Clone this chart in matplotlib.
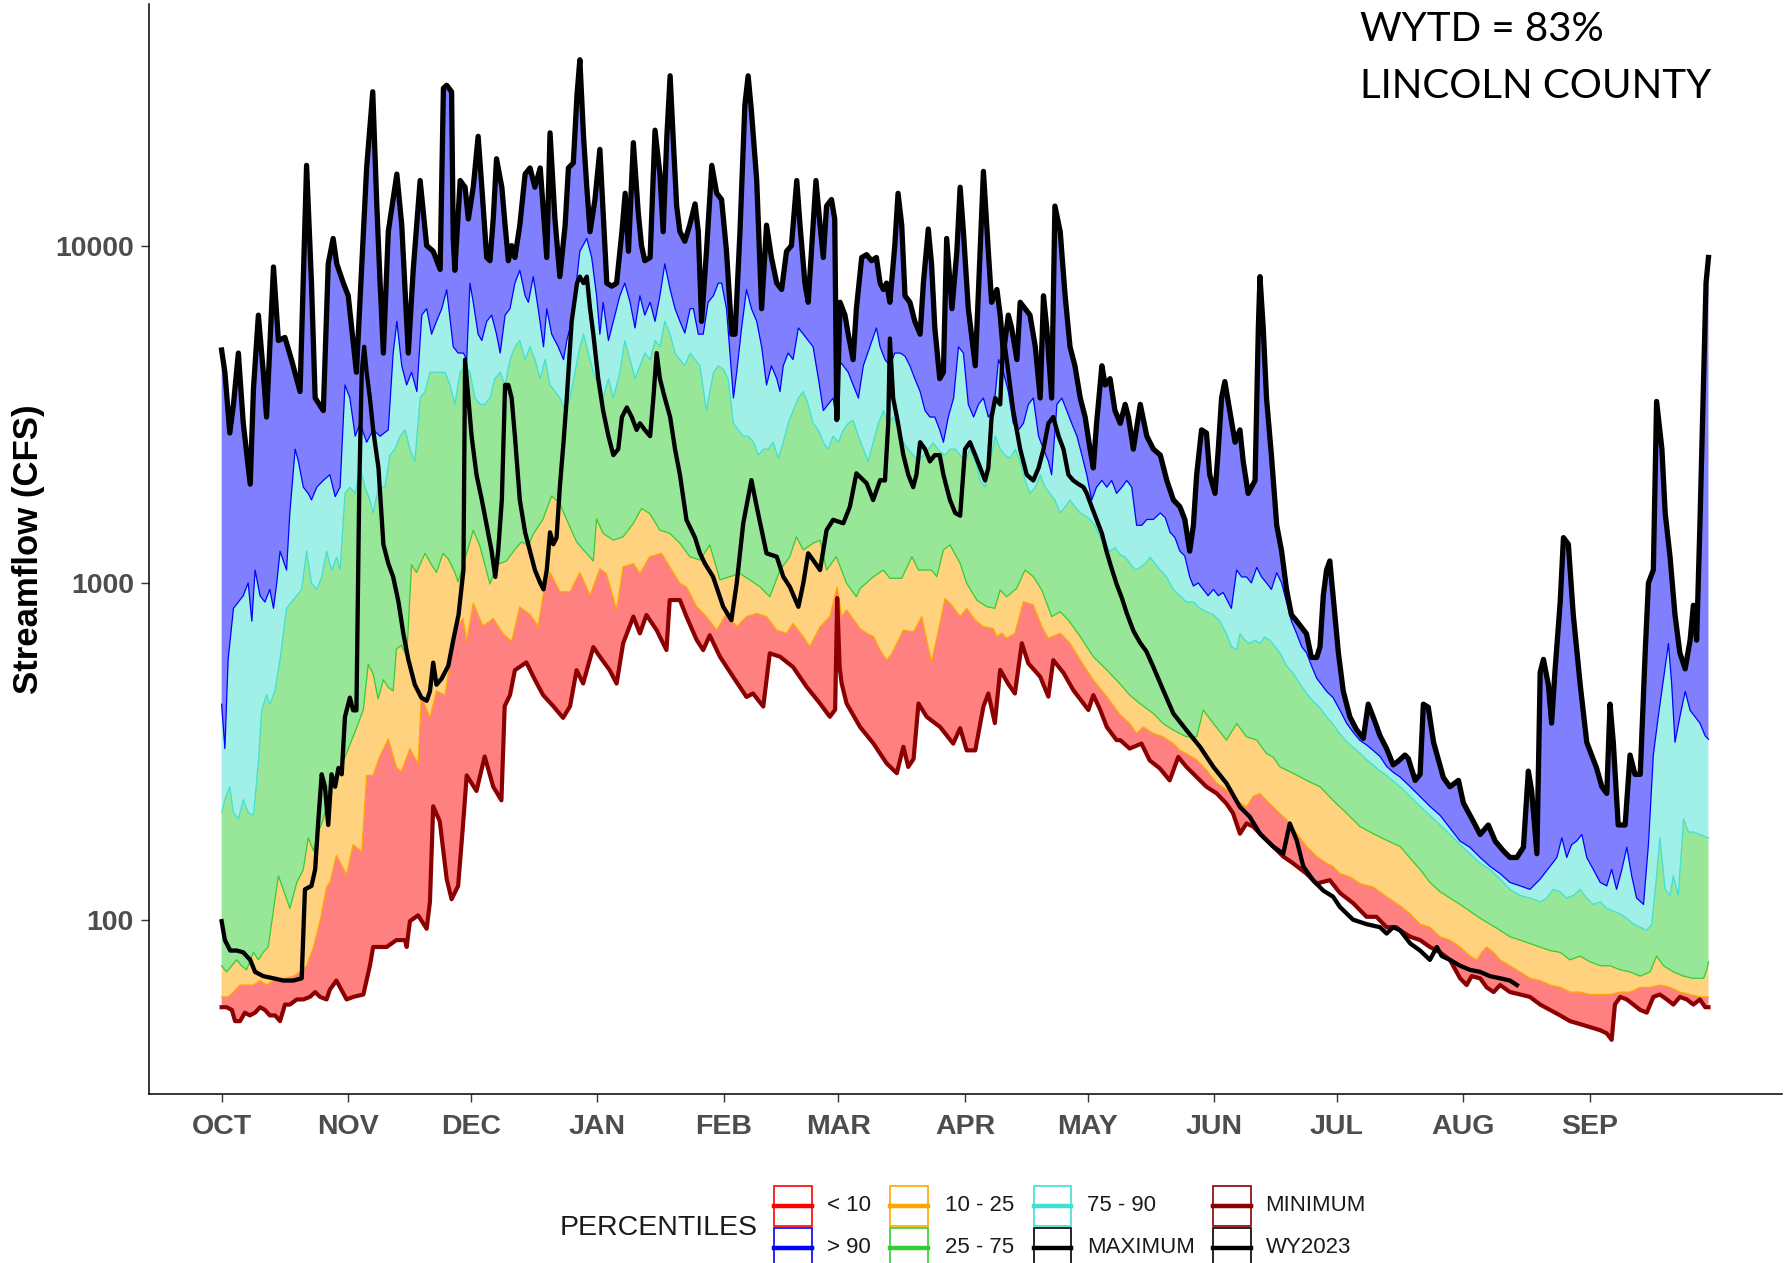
import numpy as np
import matplotlib
matplotlib.use("Agg")
import matplotlib.pyplot as plt
from matplotlib.patches import Rectangle
from matplotlib.lines import Line2D
from matplotlib.ticker import NullLocator

# ---------------- data: (day of water year, streamflow CFS) ----------------
MAXIMUM = [(0,4900),(0.8,4210),(2,2780),(2.9,3380),(4.1,4800),(5.3,2970),(7,1960),(7.8,3770),(9,6220),(10.2,4210),(11,3100),(12.7,8640),(13.9,5230),(15.5,5340),(17.1,4590),(19.2,3690),(20.8,17300),(22,7740),(22.9,3530),(24.9,3240),(26.1,8830),(27.3,10500),(28.2,8830),(29.8,7740),(31,7100),(33,4210),(35.5,17000),(37,28600),(38,13100),(38.8,7740),(39.6,4800),(40.8,11000),(42.9,16300),(44.1,11500),(45.7,4800),(46.9,8450),(48.6,15600),(50.2,10000),(51.8,9620),(53.5,8500),(54.3,29300),(55.1,29900),(56.3,28600),(56.7,10500),(57.1,8450),(58.4,15600),(59.6,14900),(60.4,12000),(61.6,14900),(62.8,21100),(63.7,14900),(64.9,9220),(65.7,9020),(66.5,12000),(67.3,18100),(68.6,14900),(69.4,11500),(70.2,9020),(71,10000),(71.8,9220),(73,11500),(74.3,16300),(75.5,17000),(76.7,14900),(78,17000),(78.8,12500),(79.6,9220),(80.4,21600),(81.6,12000),(82.8,8090),(84.1,11500),(84.9,17000),(86.1,17600),(87,28000),(87.7,35600),(88.6,21100),(89.4,14900),(90.2,11000),(91.4,13700),(92.6,19300),(93.4,12500),(94.3,7740),(95.5,7580),(96.7,7740),(98,11000),(98.8,14300),(99.6,9620),(100.8,20200),(102,12500),(102.8,10000),(103.6,9020),(104.9,9220),(106.1,22000),(107.3,16300),(108.1,11000),(109,21100),(109.8,31900),(110.6,20200),(111.4,13100),(112.2,11000),(113.4,10300),(114.6,11500),(115.9,13300),(116.7,11000),(117.5,5960),(118.7,9620),(120,17300),(121.2,14300),(122.4,13700),(123.6,9620),(124.9,5460),(125.7,5460),(126.9,11000),(128.1,26200),(128.9,31900),(129.7,25100),(131,15600),(132.2,6500),(133.4,11500),(134.6,9220),(135.9,7740),(137.1,7410),(138.3,9620),(139.5,10000),(140.8,15600),(141.6,11500),(142.8,7740),(143.6,6790),(144.4,9620),(145.5,15600),(146.5,11500),(147.3,9220),(148.1,13100),(149.3,13700),(150.1,12000),(150.6,3050),(151.4,6790),(152.6,6220),(153.4,5460),(154.6,4590),(155.4,6500),(156.7,9220),(157.9,9400),(159.1,9020),(160.3,9220),(161.2,7740),(162,7410),(162.8,7740),(163.6,6790),(164.8,10000),(165.6,14300),(166.5,11500),(167.3,7100),(168.5,6790),(169.7,5960),(171,5460),(171.8,7740),(173,11200),(173.8,8830),(174.6,5700),(175.8,4030),(176.7,4210),(177.5,10500),(178.8,6500),(180,9620),(180.8,14900),(181.6,11000),(182.8,6500),(184.5,4400),(185.3,7410),(186.5,16600),(187.7,9620),(188.5,6790),(189.8,7410),(190.6,6220),(191.4,4800),(192.6,6220),(193.4,5700),(194.7,4590),(195.5,6790),(196.7,6500),(197.9,6220),(199.2,5010),(200.4,3530),(201.2,7100),(202,5700),(203.2,3530),(204,13100),(205.3,11000),(206.5,7100),(207.7,5010),(208.9,4400),(210.2,3530),(211.4,3100),(212.6,2490),(213.4,2190),(214.2,2970),(215.5,4400),(216.3,3860),(217.5,4030),(218.7,3240),(220,2970),(221.2,3380),(222,3100),(223.2,2490),(224.9,3380),(226.5,2720),(228.1,2490),(229.8,2390),(231.4,2010),(233,1760),(234.6,1680),(235.8,1540),(237,1240),(237.9,1480),(238.7,2090),(239.9,2840),(241.1,2780),(241.9,2090),(243.2,1840),(244,2490),(244.8,3530),(245.6,3950),(246.8,3240),(248.1,2610),(249.3,2840),(250.1,2290),(251.3,1840),(253,2010),(253.8,5700),(254.2,8090),(255,5700),(255.8,3530),(257,2390),(258.3,1480),(259.5,1240),(260.7,955),(261.9,803),(263.2,769),(264.4,736),(265.6,705),(266.8,600),(268.1,600),(268.9,646),(269.7,915),(270.5,1090),(271.3,1160),(272.1,915),(273.4,619),(274.6,476),(276.2,400),(277.8,367),(279.5,345),(280.7,436),(281.9,400),(283.6,351),(285.2,322),(286.8,288),(288,295),(289.7,308),(290.5,301),(292.2,259),(293.4,270),(294.2,436),(295.4,427),(296.7,336),(299.1,264),(300.7,248),(302.8,259),(304,222),(306.5,195),(308.1,179),(310.1,191),(311.8,171),(313.8,160),(315.4,153),(317.1,153),(318.7,164),(319.9,276),(320.7,242),(322,157),(322.8,542),(323.6,592),(324.8,498),(325.6,383),(326.4,542),(327.7,876),(328.5,1360),(329.7,1300),(330.9,803),(332.6,498),(334.2,336),(335.4,308),(336.6,282),(337.9,248),(339.1,237),(339.9,436),(340.7,336),(341.9,191),(343.6,191),(344.8,308),(346,270),(347.3,270),(348.5,619),(349.3,998),(350.5,1090),(351.3,3450),(352.6,2490),(353.4,1610),(354.6,1190),(355.8,803),(357,619),(358.3,555),(359.5,675),(360.3,857),(361.1,675),(361.9,1480),(362.8,4030),(363.4,7740),(364,9220)]

P90 = [(0,436),(0.8,322),(1.6,592),(2.9,839),(4.1,876),(5.3,915),(6.5,998),(7.4,769),(8.2,1090),(9.4,915),(10.6,876),(11.8,955),(12.7,839),(13.5,998),(14.3,1240),(15.9,1090),(16.7,1610),(18,2490),(18.8,2290),(20,1920),(21.2,1840),(22,1760),(23.3,1920),(24.9,2010),(26.5,2090),(27.8,1800),(29,1920),(30.2,3860),(31.4,3530),(32.7,2720),(33.9,2970),(35.5,2610),(37.1,2840),(38.8,2720),(40.8,2840),(42,4800),(42.9,5960),(44.1,4400),(45.3,3860),(46.5,4210),(47.8,3690),(49,6220),(50.2,6500),(51.4,5460),(52.6,5960),(53.9,6500),(55.1,7400),(56.7,5010),(57.9,4800),(59.2,4800),(60,4590),(60.8,7740),(61.6,6790),(62.8,5460),(63.7,5230),(64.9,5960),(66.1,6220),(67.3,5460),(68.2,4800),(69.4,6220),(70.6,6500),(71.8,7740),(73,8450),(74.3,7100),(75.1,6790),(76.3,8090),(77.5,6500),(78.8,5010),(79.6,6500),(80.8,5460),(82.4,5010),(83.7,4590),(84.5,5230),(85.7,5960),(86.5,7100),(87.7,9620),(89.4,10500),(90.6,9220),(91.8,7100),(92.6,5460),(93.4,6790),(94.7,5230),(95.9,5960),(97.5,7100),(98.7,7740),(100,6790),(101.2,5700),(102.4,7100),(103.6,6220),(104.9,6790),(106.1,5960),(107.3,7100),(108.5,8830),(109.8,7410),(111,6500),(112.2,5960),(113.4,5500),(114.7,6500),(115.5,6500),(116.7,5460),(117.9,5460),(119.1,6790),(120.4,7100),(121.6,7740),(122.4,7740),(123.6,6500),(125.3,3530),(126.1,4210),(127.3,5700),(128.5,7410),(129.7,6500),(131,5960),(132.2,5010),(133.4,3860),(134.6,4400),(135.9,4030),(136.7,3690),(137.5,4400),(138.7,4800),(139.9,4590),(141.2,5700),(142.4,5460),(143.6,5230),(144.8,5010),(146.1,4030),(147.3,3240),(148.5,3380),(149.7,3530),(150.6,3000),(151,4590),(152.2,4400),(153.4,4210),(154.6,3860),(155.9,3530),(157.1,4400),(158.7,5010),(160.3,5700),(161.2,5010),(162.4,4590),(163.6,4400),(164.8,4800),(166.1,4800),(167.3,4700),(168.5,4400),(169.7,4030),(171,3690),(172.2,3240),(173.4,3100),(174.6,3100),(175.8,2840),(176.7,2610),(177.9,3100),(179.2,3530),(180.4,5010),(181.6,4800),(182.8,3380),(184.1,3100),(185.3,3380),(186.5,3530),(187.7,3100),(189,3240),(190.2,4590),(191.4,4210),(192.6,3690),(193.8,2970),(195.1,2840),(196.3,2970),(197.5,3380),(198.7,3530),(200,2720),(201.2,2490),(202.4,2290),(203.2,2090),(204.5,3380),(205.7,3530),(206.9,3240),(208.1,2970),(209.4,2720),(210.6,2390),(211.8,2090),(213,1760),(214.2,1920),(215.5,2010),(216.7,1920),(217.9,2010),(219.1,1840),(220.4,1920),(221.6,2010),(222.8,1920),(224,1480),(225.3,1480),(226.5,1540),(228.1,1540),(229.8,1610),(231,1560),(232.2,1410),(233.4,1360),(234.6,1240),(235.8,1200),(237,1040),(237.9,977),(239.1,998),(240.3,955),(241.5,915),(242.8,955),(244,915),(245.2,935),(246.4,876),(247.2,839),(248.5,1090),(249.7,1040),(250.9,1040),(252.1,998),(253.4,1110),(254.6,1040),(255.8,998),(257,955),(258.3,1070),(259.5,998),(260.7,876),(261.9,769),(263.2,705),(264.4,646),(265.6,619),(266.8,567),(268.1,520),(269.3,498),(270.5,476),(272.1,456),(273.8,418),(275.4,383),(277,360),(278.7,340),(280.3,330),(281.9,318),(283.6,305),(285.2,285),(286.8,274),(288.5,265),(291,248),(293.4,232),(295.8,217),(298.3,204),(300.7,187),(303.2,171),(305.6,164),(308.1,153),(310.5,144),(313,137),(315.4,129),(317.9,126),(320.3,123),(322.8,132),(325.2,144),(326.9,153),(328.1,175),(329.3,153),(330.5,167),(331.7,171),(333,179),(334.2,153),(335.8,141),(337.5,129),(339.1,126),(340.3,141),(341.5,123),(342.8,141),(344,164),(345.2,135),(346.4,116),(348.1,111),(349.3,167),(350.5,308),(351.7,400),(353,520),(354.2,660),(355,498),(355.8,336),(357,400),(358.3,476),(359.5,418),(360.7,400),(361.9,383),(363.2,351),(364,343)]

P75 = [(0,208),(0.8,227),(2,248),(2.9,208),(4.1,199),(5.3,227),(6.5,208),(7.8,204),(9,295),(9.8,418),(11,466),(11.8,436),(13,476),(14.3,592),(15.9,839),(17.1,876),(18.4,915),(19.6,955),(20.8,1240),(22,998),(23.3,955),(24.5,1040),(25.7,1240),(26.9,1090),(28.2,1190),(29,1090),(30.2,1840),(31.4,1920),(32.7,1840),(33.9,2190),(35.1,1920),(36.3,1760),(37.1,1610),(38.4,1920),(40,1920),(41.2,2390),(42.4,2490),(43.7,2720),(44.9,2840),(46.1,2490),(47.3,2290),(48.6,3530),(49.8,3690),(51,4210),(52.2,4210),(53.5,4210),(54.7,4210),(55.9,3860),(57.1,3380),(58.4,4210),(59.6,4400),(60.8,4210),(62,3530),(63.3,3380),(64.5,3380),(65.7,3530),(66.9,4030),(68.2,4210),(69.4,3860),(70.6,4590),(71.8,5010),(73,5230),(74.3,4590),(75.5,5010),(76.7,4590),(78,4030),(79.2,4590),(80.4,3860),(81.6,3690),(82.8,3530),(84.1,3240),(85.3,3530),(86.5,4210),(87.7,5010),(88.6,5460),(89.8,4800),(91,4210),(92.2,3860),(93.4,3530),(94.7,4030),(95.9,3530),(97.5,4210),(98.7,5230),(100,4590),(101.2,4030),(102.4,4400),(103.6,4800),(104.9,4590),(106.1,5230),(107.3,5010),(108.5,5960),(109.8,5460),(111,4800),(112.2,4590),(113.4,4400),(114.7,4800),(115.9,4590),(117.1,4400),(118.7,3240),(120.4,4210),(121.6,4400),(122.8,4300),(124,4030),(125.3,2970),(126.5,2840),(127.7,2720),(128.9,2720),(130.2,2610),(131.4,2390),(132.6,2490),(133.8,2490),(135,2610),(136.3,2340),(137.5,2610),(138.7,2970),(139.9,3240),(141.2,3530),(142.4,3690),(143.6,3380),(144.8,2970),(146.1,2840),(147.3,2610),(148.5,2490),(149.7,2720),(151,2610),(152.2,2840),(153.4,2970),(154.6,3030),(155.9,2720),(157.1,2490),(158.3,2290),(159.5,2610),(160.8,2970),(162,3240),(163.2,2970),(164.4,3100),(165.6,2840),(166.9,2610),(168.1,2490),(169.3,2390),(170.5,2290),(171.8,2390),(173,2490),(174.2,2600),(175.8,2450),(177.1,2390),(178.3,2490),(179.6,2490),(180.8,2390),(182,2290),(183.2,2490),(184.5,2290),(185.7,2010),(186.9,1920),(188.1,2290),(189.4,2720),(190.6,2490),(191.8,2390),(193,2340),(194.3,2490),(195.5,2290),(196.7,2010),(197.9,1840),(199.2,1920),(200.4,2090),(201.6,1920),(202.8,1840),(204,1760),(205.3,1610),(206.5,1680),(207.7,1760),(208.9,1680),(210.2,1610),(211.4,1580),(212.6,1540),(213.8,1480),(215.1,1360),(216.3,1300),(217.5,1240),(218.7,1270),(220,1210),(221.2,1190),(222.4,1140),(223.6,1090),(224.9,1110),(226.1,1140),(227.3,1190),(228.5,1140),(229.8,1090),(231.3,1040),(233,955),(234.6,915),(236.2,876),(237.9,876),(239.5,839),(241.1,821),(242.8,803),(244.4,769),(246,705),(247.2,646),(248.5,632),(249.3,705),(250.5,675),(251.7,660),(253,675),(254.2,660),(255.4,690),(256.6,675),(257.9,646),(259.1,619),(260.7,567),(262.3,540),(264,500),(265.6,470),(267.2,445),(268.9,425),(270.5,400),(272.1,380),(273.8,355),(275.4,338),(277,325),(278.7,312),(280.3,298),(281.9,288),(283.6,276),(285.2,268),(286.8,258),(288.5,248),(291,232),(293.4,217),(295.8,204),(298.3,191),(300.7,179),(303.2,167),(305.6,157),(308.1,147),(310.5,141),(313,132),(315.4,123),(317.9,118),(320.3,116),(322.8,113),(324.4,116),(326,123),(327.7,121),(329.3,116),(330.9,118),(332.6,123),(334.2,116),(335.8,111),(337.5,113),(339.1,108),(340.7,106),(342.4,104),(344,101),(345.6,97),(347.3,95),(348.9,93),(350.1,97),(351.3,135),(352.1,175),(353.4,123),(354.6,118),(355.4,135),(356.6,118),(357.9,199),(359.1,182),(360.3,182),(361.9,179),(364,175)]

P25 = [(0,73),(1.2,70),(2.5,73),(3.7,76),(4.9,73),(6.1,71),(7.8,80),(9,76),(10.2,80),(11.4,83),(12.3,99),(13.9,135),(15.1,123),(16.7,108),(18.4,129),(20,141),(21.2,175),(22.5,160),(23.7,182),(24.9,199),(26.5,240),(28.1,265),(29.8,295),(31.4,330),(33,370),(34.7,420),(35.9,573),(37.1,536),(38.3,452),(39.6,515),(40.8,489),(42,477),(42.8,636),(44,652),(45.3,603),(46.5,1130),(47.7,1072),(49.8,1222),(51.4,1130),(52.6,1072),(54.2,1222),(55.5,1175),(57.1,1072),(57.9,1005),(60,1222),(61.6,1429),(63.2,1288),(65.7,991),(67.3,1130),(69.7,1159),(71.8,1254),(73.4,1321),(75.1,1288),(76.3,1393),(78.7,1545),(80.8,1808),(82.8,1718),(84.4,1545),(86.9,1321),(88.5,1254),(91,1159),(91.8,1545),(93.4,1400),(95.9,1337),(98.3,1368),(100.8,1500),(102.8,1660),(104.8,1604),(107.3,1432),(109.7,1400),(112.2,1309),(114.6,1194),(117.1,1167),(119.5,1294),(122,1019),(124.4,1042),(126.9,1064),(129.3,1019),(131.8,972),(134.2,908),(136.7,1090),(139.1,1194),(140.7,1368),(142.4,1250),(144.8,1309),(146.5,1337),(148.1,1090),(150.5,1194),(153,995),(155.4,908),(156.3,961),(159.6,1042),(162,1090),(163.6,1030),(166.5,1030),(169,1194),(170.6,1090),(173.8,1090),(175.1,1042),(176.7,1250),(178.3,1294),(180.8,1141),(182.4,995),(184.9,887),(187.3,849),(189.3,839),(190.6,951),(192.2,908),(194.6,961),(196.7,1090),(198.7,1042),(200.8,951),(203.2,793),(205.3,820),(207.3,774),(210.2,692),(213.4,603),(216.7,551),(220,500),(222.3,464),(224.8,438),(228.1,409),(230.5,382),(233,365),(236.2,349),(238.7,349),(240.3,419),(242.8,382),(246,341),(248.5,382),(250.9,349),(253.4,341),(255.8,311),(257.4,304),(259.1,284),(262.3,272),(265.6,259),(268.9,248),(272.1,226),(275.4,207),(278.7,189),(281.9,180),(285.2,172),(288.5,165),(291,152),(293.4,141),(295.8,129),(298.3,121),(300.7,116),(303.2,111),(305.6,106),(308.1,101),(310.5,97),(313,93),(315.4,89),(317.9,87),(320.3,85),(322.8,83),(325.2,81),(327.7,80),(330.1,76),(332.6,78),(335,75),(337.5,73),(339.9,73),(342.4,71),(344.8,70),(347.3,68),(349.7,70),(351.3,78),(353,73),(355.4,70),(357.9,68),(360.3,67),(362.8,67),(363.6,71),(364,75)]

P10 = [(0,59),(1.6,59),(2.9,61),(4.5,64),(6.1,64),(7.8,64),(9.4,66),(11,64),(12.7,66),(14.3,67),(15.9,67),(17.6,68),(19.2,70),(20.8,73),(22.5,83),(24.1,99),(25.7,125),(26.5,129),(28.1,155),(30.6,136),(32.2,167),(34.3,159),(35.5,268),(37.1,268),(38.7,305),(40.8,344),(42.8,283),(44,275),(46.1,322),(48.1,290),(48.9,458),(51,397),(52.6,477),(54.7,464),(57.1,724),(59.1,783),(60,670),(61.6,869),(64,743),(66.5,783),(68.9,705),(71,670),(73,847),(75.5,804),(77.5,743),(78.7,916),(80.4,1072),(82.8,940),(85.3,940),(87.7,1072),(90.2,916),(92.6,1100),(94.2,1064),(96.7,830),(98.3,1114),(100.8,1140),(102.4,1064),(104.8,1194),(107.7,1222),(109.7,1114),(112.2,995),(113.8,972),(116.3,848),(118.7,793),(121.2,723),(123.6,811),(126.1,740),(128.5,793),(131,811),(133.4,793),(135.9,723),(138.3,707),(139.9,757),(142.4,691),(144,646),(146.5,740),(148.9,793),(150.7,972),(151.8,793),(153,830),(155.4,757),(156.3,731),(157.9,707),(159.6,692),(161.2,631),(162.8,589),(164.1,617),(166.9,723),(169.4,715),(171.4,793),(172.6,676),(173.8,582),(175.5,723),(177.1,897),(178.7,859),(180.8,793),(182.4,839),(184.5,774),(186.5,740),(188.9,731),(189.8,692),(191,708),(192.2,684),(194.2,708),(196.3,878),(198.7,859),(200.8,740),(202.4,684),(205.3,708),(207.7,661),(210.2,589),(213.4,514),(216.7,459),(220,405),(222.3,382),(224,357),(225.6,373),(228.1,357),(230.5,349),(233,333),(234.6,318),(236.2,311),(238.7,298),(241.1,278),(243.6,254),(246,243),(248.5,226),(250.9,216),(252.5,232),(254.2,237),(255.8,226),(258.3,211),(260.7,198),(263.2,180),(265.6,165),(268.1,154),(270.5,147),(272.1,144),(273.8,137),(276.2,134),(278.7,128),(281.9,125),(285.2,117),(288.5,110),(291,104),(293.4,97),(295.8,95),(298.3,89),(300.7,87),(303.2,83),(305.6,78),(307.3,76),(308.5,80),(309.7,83),(311.4,80),(313,76),(315.4,73),(317.9,70),(320.3,67),(322.8,66),(325.2,64),(327.7,63),(330.1,61),(332.6,61),(335,60),(337.5,60),(339.9,60),(342.4,61),(344.8,61),(347.3,63),(349.7,63),(352.1,64),(354.6,63),(357,61),(359.5,60),(361.9,59),(364,59)]

MINIMUM = [(0,55),(1.2,55),(2.5,54),(3.3,50),(4.5,50),(5.7,53),(6.9,52),(8.2,53),(9.4,55),(10.6,54),(11.8,52),(13.1,52),(14.3,50),(15.5,56),(16.7,56),(18.4,58),(20,58),(21.6,59),(22.9,61),(24.1,59),(25.7,58),(26.5,62),(28.1,66),(30.6,58),(32.2,59),(34.7,60),(36.3,73),(37.1,83),(38.8,83),(40.4,83),(42.8,87),(44.9,87),(45.3,83),(46.1,99),(48.1,103),(50.2,94),(51,113),(51.8,217),(53.4,196),(55.1,132),(56.3,115),(57.9,126),(59.1,191),(60,268),(62.4,241),(64.4,305),(66.5,248),(68.5,226),(69.3,430),(70.6,464),(71.8,550),(74.6,580),(76.7,515),(78.7,464),(81.2,430),(83.6,397),(85.3,430),(86.9,550),(88.5,502),(91,644),(92.6,603),(95,550),(96.7,502),(98.3,661),(100.8,793),(102.4,707),(104,802),(106.5,723),(108.9,631),(109.7,888),(112.2,888),(113.8,793),(116.3,676),(117.9,631),(119.5,698),(122,603),(125.2,526),(128.5,458),(130.1,469),(132.6,429),(134.2,617),(136.7,603),(139.9,562),(143.2,491),(146.5,438),(148.9,400),(150.2,420),(150.7,900),(151.3,560),(151.8,502),(153,438),(156.3,373),(159.6,333),(162.8,291),(165.3,272),(166.9,326),(168.1,284),(169.4,300),(170.6,438),(172.6,400),(175.9,373),(179.1,333),(180.8,370),(182.4,318),(184.5,318),(186.5,429),(187.7,469),(189.3,383),(190.6,551),(192.6,500),(194.2,469),(195.9,661),(197.5,576),(200.4,526),(202.4,459),(203.6,589),(206.1,540),(208.5,480),(212.2,419),(213.4,464),(215.1,419),(216.7,373),(219.1,341),(220,341),(222.3,322),(225.2,333),(227.2,297),(229.7,281),(232.1,259),(234.2,304),(236.2,284),(238.7,265),(241.1,248),(243.6,237),(246,221),(247.6,207),(249.3,180),(250.9,193),(252.5,189),(255,176),(257.4,165),(259.9,154),(262.3,147),(265.6,137),(268,128),(271.3,131),(273.8,120),(277,112),(280.3,102),(282.7,102),(285.2,95),(287.6,95),(288.5,93),(291,89),(293.4,87),(295.8,83),(298.3,80),(300.7,76),(303.2,67),(304.8,64),(306,68),(308.1,67),(309.7,63),(311.4,61),(313,64),(315.4,61),(317.9,60),(320.3,59),(322.8,56),(325.2,54),(327.7,52),(330.1,50),(332.6,49),(335,48),(337.5,47),(339.1,46),(340.3,44),(341.1,56),(342.4,59),(344,58),(345.6,56),(347.3,54),(348.9,53),(350.5,59),(352.1,60),(353.8,58),(355.4,56),(357,59),(358.7,58),(360.3,56),(361.9,58),(363.2,55),(364,55)]

WY2023 = [(0,99),(0.8,87),(2.1,81),(3.7,81),(5.3,80),(7,76),(8.2,70),(10.2,68),(12.7,67),(15.1,66),(17.6,66),(19.6,67),(20.4,123),(22,126),(22.9,141),(23.7,199),(24.5,270),(25.3,248),(26.1,191),(26.9,270),(27.8,248),(28.6,282),(29.4,270),(30.2,400),(31.4,456),(32.2,418),(33,418),(33.7,1920),(34.3,4210),(34.9,5010),(35.5,4210),(36.3,3530),(37.1,2840),(38.4,2190),(39.6,1300),(40.8,1140),(42,1040),(43.3,876),(44.5,705),(45.7,592),(47.3,498),(48.9,456),(50.2,446),(51,476),(51.8,579),(52.6,498),(53.9,520),(55.5,567),(56.7,675),(58,803),(59.2,1090),(59.6,4590),(60.4,3530),(61.2,2720),(62.4,2090),(63.7,1760),(64.9,1480),(66.1,1240),(67,1040),(67.7,1240),(68.6,1760),(69.4,3860),(70.2,3860),(71,3530),(71.8,2720),(73,1760),(74.3,1410),(75.5,1240),(76.7,1090),(78,998),(78.8,955),(79.6,1090),(80.4,1410),(81.2,1300),(82,1360),(82.8,1920),(83.7,2610),(84.5,3530),(85.7,5960),(87,7740),(87.7,8090),(88.6,7740),(89.4,8090),(90.2,6500),(91,5460),(92.2,4030),(93.4,3240),(94.7,2720),(95.9,2390),(97.1,2490),(98,3100),(99.2,3310),(100.4,3100),(101.6,2840),(102.4,2970),(103.6,2840),(104.9,2720),(105.7,3530),(106.5,4800),(107.3,4030),(108.5,3530),(109.8,3100),(111,2490),(112.2,2090),(113.8,1536),(115.9,1360),(117.1,1222),(118.3,1140),(120.3,1042),(122.8,848),(124.8,774),(126.1,995),(127.7,1500),(129.7,2015),(131,1680),(133.4,1222),(135.9,1194),(137.5,1042),(139.1,972),(141.2,848),(142.4,995),(143.6,1222),(144.8,1167),(146.5,1090),(148.1,1432),(149.7,1536),(152.2,1500),(153.8,1680),(155.4,2110),(157.9,1972),(159.5,1758),(161.2,2015),(162.4,2010),(163.2,2970),(163.6,5300),(164.4,3530),(165.6,2970),(166.9,2390),(168.1,2090),(169.3,1920),(170.1,2090),(171,2610),(172.2,2490),(173.4,2290),(174.6,2390),(175.8,2390),(176.7,2090),(178.3,1760),(179.6,1610),(180.8,1580),(182,2490),(183.2,2610),(184.5,2390),(185.7,2190),(186.9,2010),(187.7,2190),(188.5,3100),(189.4,3530),(190.6,3380),(191.4,5460),(192.6,4210),(193.8,3240),(195.5,2490),(197.1,2090),(198.7,2010),(200,2190),(201.2,2490),(202.4,2970),(203.6,3100),(204.9,2720),(206.1,2490),(207.3,2090),(208.5,2010),(209.8,1960),(211,1920),(211.8,1840),(213,1680),(214.2,1540),(215.5,1400),(216.7,1230),(217.9,1100),(219.1,990),(220.4,900),(221.6,811),(223.2,720),(224.8,665),(226.4,625),(228.1,562),(230.5,480),(233,409),(236.2,365),(239.5,326),(242.8,284),(246,254),(249.3,216),(251.7,202),(254.2,180),(257.4,165),(259.9,157),(261.5,193),(263.2,172),(264.8,144),(267.2,131),(269.7,122),(272.1,117),(273.8,109),(277,100),(280.3,97),(283.6,95),(285.2,91),(286.8,95),(288.5,93),(291,85),(293.4,81),(295.8,76),(297.5,83),(298.7,78),(300.7,76),(303.2,73),(305.6,71),(308.1,70),(310.5,68),(313,67),(315.4,66),(317.1,64)]

MONTHS = ["OCT", "NOV", "DEC", "JAN", "FEB", "MAR", "APR", "MAY", "JUN", "JUL", "AUG", "SEP"]
MONTH_START_DAY = [0, 31, 61, 92, 123, 151, 182, 212, 243, 273, 304, 335]
Y_TICKS = [100, 1000, 10000]

LEGEND_LABELS = ["< 10", "> 90", "10 - 25", "25 - 75", "75 - 90", "MAXIMUM", "MINIMUM", "WY2023"]
LEGEND_COLORS = ["#FF0000", "#0000FF", "#FFA500", "#32CD32", "#40E0D0", "#000000", "#8B0000", "#000000"]


def xy(series):
    a = np.asarray(series, dtype=float)
    return a[:, 0], a[:, 1]


W, H = 1791, 1263
fig = plt.figure(figsize=(W / 100, H / 100), dpi=100)
fig.patch.set_facecolor("white")
ax = fig.add_axes([148.5 / W, 1 - 1094 / H, (1782 - 148.5) / W, (1094 - 4) / H])
ax.set_yscale("log")
ax.set_xlim(-17.9, 382)
ax.set_ylim(30.4, 52100)


def band(upper, lower, color):
    ux, uy = xy(upper)
    lx, ly = xy(lower)
    ax.fill(np.concatenate([ux, lx[::-1]]), np.concatenate([uy, ly[::-1]]),
            facecolor=color, edgecolor="none", linewidth=0, zorder=1)


band(P10, MINIMUM, "#FF8080")
band(P25, P10, "#FFD280")
band(P75, P25, "#98E698")
band(P90, P75, "#A0F0E8")
band(MAXIMUM, P90, "#8080FF")

ax.plot(*xy(P10), color="#FFA500", lw=0.9, zorder=2)
ax.plot(*xy(P25), color="#32CD32", lw=0.9, zorder=2)
ax.plot(*xy(P75), color="#40E0D0", lw=0.9, zorder=2)
ax.plot(*xy(P90), color="#0000FF", lw=0.9, zorder=2)
ax.plot(*xy(MINIMUM), color="#8B0000", lw=3.0, zorder=3)
ax.plot(*xy(MAXIMUM), color="#000000", lw=3.8, zorder=4)
ax.plot(*xy(WY2023), color="#000000", lw=3.1, zorder=5)

# axes styling (ggplot theme_classic look)
for s in ("top", "right"):
    ax.spines[s].set_visible(False)
for s in ("left", "bottom"):
    ax.spines[s].set_color("#000000")
    ax.spines[s].set_linewidth(1.1)

tick_font = dict(family=["Liberation Sans", "DejaVu Sans"], weight="bold", size=20.5, color="#4D4D4D")
ax.set_xticks(MONTH_START_DAY)
ax.set_xticklabels(MONTHS, **tick_font)
ax.set_yticks(Y_TICKS)
ax.set_yticklabels([str(v) for v in Y_TICKS], **tick_font)
ax.yaxis.set_minor_locator(NullLocator())
ax.tick_params(axis="both", which="major", length=5.5, width=1.0, color="#333333")
ax.tick_params(axis="x", pad=9)
ax.tick_params(axis="y", pad=5)

fig.text(28.5 / W, 1 - 549 / H, "Streamflow (CFS)", rotation=90, ha="center", va="center",
         family=["Liberation Sans", "DejaVu Sans"], weight="bold", size=25, color="#000000")

# annotation (top right)
fig.text(1360 / W, 1 - 41 / H, "WYTD = 83%", ha="left", va="baseline",
         family=["Lato", "DejaVu Sans"], size=29, color="#000000")
fig.text(1360 / W, 1 - 98 / H, "LINCOLN COUNTY", ha="left", va="baseline",
         family=["Lato", "DejaVu Sans"], size=29, color="#000000")

# legend (bottom, 2 rows x 4 columns)
dy = 3.4
fig.text(559.7 / W, 1 - (1224.4 + dy) / H, "PERCENTILES", ha="left", va="center",
         family=["Liberation Sans", "DejaVu Sans"], size=20.5, color="#1A1A1A")
col_box_x = [774.4, 889.8, 1033.7, 1213.0]
col_text_x = [827.0, 944.6, 1087.4, 1265.6]
row_top = [1182.2 + dy, 1224.4 + dy]
bw, bh = 37.7, 40.0
for i, (lab, col) in enumerate(zip(LEGEND_LABELS, LEGEND_COLORS)):
    c, r = i // 2, i % 2
    x0, y0 = col_box_x[c], row_top[r]
    fig.add_artist(Rectangle((x0 / W, 1 - (y0 + bh) / H), bw / W, bh / H,
                             transform=fig.transFigure, fill=True, facecolor="white",
                             edgecolor=col, lw=1.2))
    fig.add_artist(Line2D([x0 / W, (x0 + bw) / W], [1 - (y0 + bh / 2) / H] * 2,
                          transform=fig.transFigure, color=col, lw=3.2))
    fig.text(col_text_x[c] / W, 1 - (y0 + bh / 2) / H, lab, ha="left", va="center",
             family=["Liberation Sans", "DejaVu Sans"], size=16, color="#1A1A1A")

fig.savefig("out.png", dpi=100)
